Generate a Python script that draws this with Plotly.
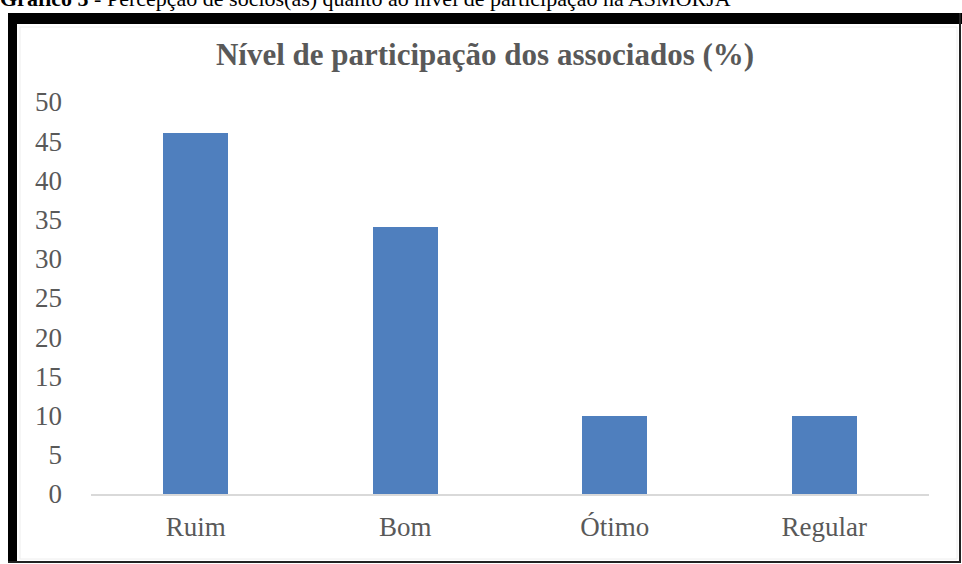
import plotly.graph_objects as go

categories = ["Ruim", "Bom", "Ótimo", "Regular"]
values = [46, 34, 10, 10]
y_ticks = [0, 5, 10, 15, 20, 25, 30, 35, 40, 45, 50]

W, H = 962, 564
L, R, T, B = 91, 33, 102, 70
PW, PH = W - L - R, H - T - B

def px(x):
    return (x - L) / PW

def py(y):
    return (H - B - y) / PH

SERIF = "Liberation Serif, Times New Roman, serif"
GRAY = "#595959"

fig = go.Figure()
fig.add_trace(go.Bar(
    x=categories, y=values, width=0.31,
    marker=dict(color="#4F7FBE", line=dict(width=0)),
    hoverinfo="x+y",
))

shapes = [
    # black frame
    dict(type="rect", xref="paper", yref="paper", x0=px(8), x1=px(17), y0=py(562), y1=py(13),
         fillcolor="black", line=dict(width=0), layer="above"),
    dict(type="rect", xref="paper", yref="paper", x0=px(8), x1=px(962), y0=py(24), y1=py(13),
         fillcolor="black", line=dict(width=0), layer="above"),
    dict(type="line", xref="paper", yref="paper", x0=px(960), x1=px(960), y0=py(563), y1=py(13),
         line=dict(color="#222222", width=2), layer="above"),
    dict(type="line", xref="paper", yref="paper", x0=px(8), x1=px(961), y0=py(562), y1=py(562),
         line=dict(color="#222222", width=2), layer="above"),
    # faint inner chart-area border
    dict(type="rect", xref="paper", yref="paper", x0=px(20), x1=px(957), y0=py(559), y1=py(27),
         line=dict(color="#EEEEEE", width=1), fillcolor="rgba(0,0,0,0)", layer="below"),
]

fig.update_layout(
    width=W, height=H,
    margin=dict(l=L, r=R, t=T, b=B, pad=0),
    paper_bgcolor="white", plot_bgcolor="white",
    showlegend=False,
    bargap=0,
    font=dict(family=SERIF, color=GRAY),
    title=dict(
        text="<b>Nível de participação dos associados (%)</b>",
        xref="container", yref="container", x=485 / W, y=1 - 54 / H,
        xanchor="center", yanchor="middle",
        font=dict(family=SERIF, size=31, color=GRAY),
    ),
    xaxis=dict(
        type="category", range=[-0.5, 3.5],
        showline=True, linecolor="#D9D9D9", linewidth=1.5,
        ticks="", showgrid=False, zeroline=False,
        tickfont=dict(family=SERIF, size=27, color=GRAY),
        ticklabelstandoff=8,
    ),
    yaxis=dict(
        range=[0, 50], tickvals=y_ticks, ticktext=[str(v) for v in y_ticks],
        showgrid=False, zeroline=False, showline=False, ticks="",
        tickfont=dict(family=SERIF, size=27, color=GRAY),
        ticklabelstandoff=28,
    ),
    shapes=shapes,
    annotations=[dict(
        xref="paper", yref="paper", x=px(-2), y=py(13),
        xanchor="left", yanchor="bottom", showarrow=False,
        text="<b>Gráfico 5</b> - Percepção de sócios(as) quanto ao nível de participação na ASMORJA",
        font=dict(family=SERIF, size=22, color="black"),
    )],
)

fig.write_html("out.html", config={"displayModeBar": False},
               post_script="document.body.style.margin='0px';")
